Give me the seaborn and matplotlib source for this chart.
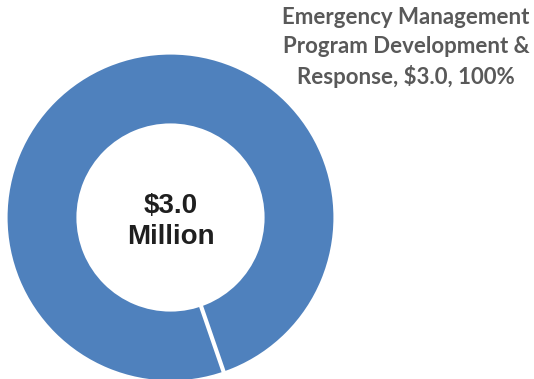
import matplotlib
matplotlib.use("Agg")
import numpy as np
import matplotlib.pyplot as plt
import seaborn as sns

# Data
categories = ["Emergency Management Program Development & Response"]
values = [3.0]  # $ million
label_lines = ["Emergency Management", "Program Development &", "Response, $3.0, 100%"]
center_label = ["$3.0", "Million"]
colors = ["#4F81BD"]

sns.set_theme(style="white")
plt.rcParams['font.family'] = ['Liberation Sans', 'DejaVu Sans']

fig = plt.figure(figsize=(5.34, 3.79), dpi=100)
ax = fig.add_axes([0, 0, 1, 1])

cx, cy = 170.5, 379 - 217.5
wedges, _ = ax.pie(values, colors=colors, startangle=-71, counterclock=True,
                   center=(cx, cy), radius=165, frame=True,
                   wedgeprops=dict(width=73, edgecolor="white", linewidth=3))

# white separator where the single slice starts/ends
w = wedges[0]
ang = np.deg2rad(w.theta1)
r_out, r_in = w.r + 2, w.r - w.width - 2
ax.plot([w.center[0] + r_in * np.cos(ang), w.center[0] + r_out * np.cos(ang)],
        [w.center[1] + r_in * np.sin(ang), w.center[1] + r_out * np.sin(ang)],
        color="white", lw=3, solid_capstyle="butt")

ax.set_xlim(0, 534)
ax.set_ylim(0, 379)
ax.set_aspect("equal")
ax.axis("off")

ax.text(cx, cy - 4, "\n".join(center_label), ha="center", va="center",
        fontsize=20, fontweight="bold", color="#1f1f1f",
        family=["Liberation Sans", "DejaVu Sans"], linespacing=1.2)

ax.text(406, 379 - 47.5, "\n".join(label_lines), ha="center", va="center",
        fontsize=16, fontweight="bold", color="#595959",
        family=["Lato", "DejaVu Sans"], linespacing=1.45)

fig.savefig("out.png", dpi=100)
